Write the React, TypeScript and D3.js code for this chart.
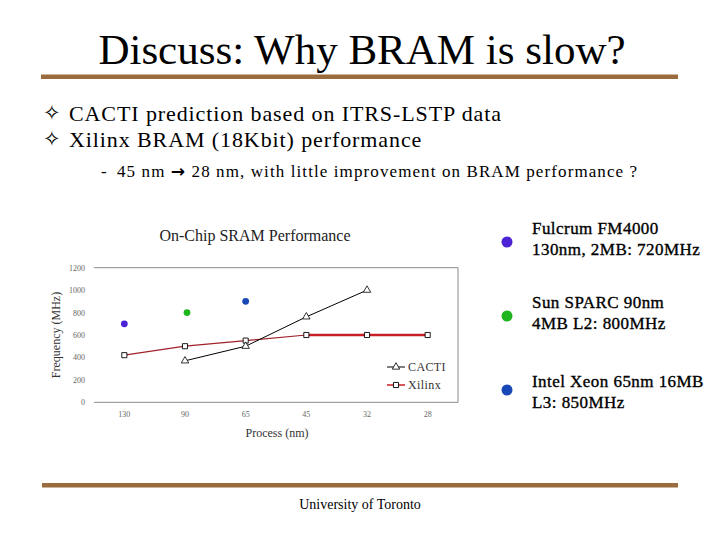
import React, { useEffect, useRef } from 'react';
import * as d3 from 'd3';

// chart data
const processes = ['130', '90', '65', '45', '32', '28'];
const cactiData: [string, number][] = [
  ['90', 370],
  ['65', 500],
  ['45', 762],
  ['32', 1000],
];
const xilinxData: [string, number][] = [
  ['130', 420],
  ['90', 500],
  ['65', 550],
  ['45', 600],
  ['32', 600],
  ['28', 600],
];
const chipPoints: [string, number, string][] = [
  ['130', 700, '#4B22D6'],
  ['90', 800, '#1FB51F'],
  ['65', 900, '#1848B8'],
];
const yTicks = [0, 200, 400, 600, 800, 1000, 1200];

const bullets = ['CACTI prediction based on ITRS-LSTP data', 'Xilinx BRAM (18Kbit) performance'];
const subBullet = ['45 nm ', '\u2192', ' 28 nm, with little improvement on BRAM performance ?'];
const notes: [string, string, string][] = [
  ['Fulcrum FM4000', '130nm, 2MB: 720MHz', '#4B22D6'],
  ['Sun SPARC 90nm', '4MB L2: 800MHz', '#1FB51F'],
  ['Intel Xeon 65nm 16MB', 'L3: 850MHz', '#1848B8'],
];

const SERIF = 'Liberation Serif';
const BROWN = '#996B3D';

const App: React.FC = () => {
  const svgRef = useRef<SVGSVGElement>(null);

  useEffect(() => {
    if (!svgRef.current) return;
    const svg = d3.select(svgRef.current);
    svg.selectAll('*').remove();

    const text = (sel: d3.Selection<any, any, any, any>, size: number) =>
      sel.style('font-family', SERIF).style('font-size', `${size}px`);

    // slide header
    text(svg.append('text'), 43)
      .attr('x', 362).attr('y', 64)
      .attr('text-anchor', 'middle')
      .attr('fill', '#000')
      .text('Discuss: Why BRAM is slow?');

    svg.append('rect')
      .attr('x', 41).attr('y', 74.5).attr('width', 637).attr('height', 4.5)
      .attr('fill', BROWN);

    bullets.forEach((b, i) => {
      const y = 121 + i * 26;
      svg.append('text')
        .attr('x', 43).attr('y', y - 1)
        .style('font-family', 'DejaVu Sans').style('font-size', '21px')
        .attr('fill', '#000')
        .text('\u2727');
      text(svg.append('text'), 22)
        .attr('x', 69).attr('y', y)
        .style('letter-spacing', '0.9px')
        .attr('fill', '#000')
        .text(b);
    });

    text(svg.append('text'), 17)
      .attr('x', 101).attr('y', 177)
      .attr('fill', '#000')
      .text('-');
    const sub = text(svg.append('text'), 17)
      .attr('x', 117).attr('y', 177)
      .style('letter-spacing', '1.1px')
      .attr('fill', '#000');
    sub.append('tspan').text(subBullet[0]);
    sub.append('tspan')
      .style('font-family', 'DejaVu Sans').style('font-weight', 'bold')
      .text(subBullet[1]);
    sub.append('tspan').text(subBullet[2]);

    // chart
    const left = 94, right = 458, top = 267.7, bottom = 402.3;
    const x = d3.scaleBand().domain(processes).range([left, right]);
    const cx = (p: string) => (x(p) as number) + x.bandwidth() / 2;
    const y = d3.scaleLinear().domain([0, 1200]).range([bottom, top]);

    text(svg.append('text'), 16)
      .attr('x', 255).attr('y', 241)
      .attr('text-anchor', 'middle')
      .attr('fill', '#222')
      .text('On-Chip SRAM Performance');

    const g = svg.append('g');

    // plot border
    g.append('path')
      .attr('d', `M${left},${y(1200)}H${right}V${y(0)}H${left}`)
      .attr('fill', 'none')
      .attr('stroke', '#8a8a8a')
      .attr('stroke-width', 1);

    text(g.selectAll('.ytick')
      .data(yTicks)
      .enter()
      .append('text')
      .attr('class', 'ytick'), 8)
      .attr('x', left - 9)
      .attr('y', d => y(d) + 3)
      .attr('text-anchor', 'end')
      .attr('fill', '#666')
      .text(d => d);

    text(g.selectAll('.xtick')
      .data(processes)
      .enter()
      .append('text')
      .attr('class', 'xtick'), 8)
      .attr('x', d => cx(d))
      .attr('y', bottom + 15)
      .attr('text-anchor', 'middle')
      .attr('fill', '#666')
      .text(d => d);

    text(svg.append('text'), 12)
      .attr('transform', `translate(60,${(top + bottom) / 2}) rotate(-90)`)
      .attr('text-anchor', 'middle')
      .attr('fill', '#333')
      .text('Frequency (MHz)');

    text(svg.append('text'), 12)
      .attr('x', 277).attr('y', 437)
      .attr('text-anchor', 'middle')
      .attr('fill', '#333')
      .text('Process (nm)');

    // Xilinx line: thin first part, thick tail
    const line = d3.line<[string, number]>().x(d => cx(d[0])).y(d => y(d[1]));
    g.append('path')
      .datum(xilinxData.slice(0, 4))
      .attr('d', line)
      .attr('fill', 'none')
      .attr('stroke', '#A0222A')
      .attr('stroke-width', 1.2);
    g.append('path')
      .datum(xilinxData.slice(3))
      .attr('d', line)
      .attr('fill', 'none')
      .attr('stroke', '#C81E24')
      .attr('stroke-width', 2.6);

    g.append('path')
      .datum(cactiData)
      .attr('d', line)
      .attr('fill', 'none')
      .attr('stroke', '#000')
      .attr('stroke-width', 1);

    const square = d3.symbol().type(d3.symbolSquare).size(26);
    const triangle = d3.symbol().type(d3.symbolTriangle).size(24);

    g.selectAll('.xil-mark')
      .data(xilinxData)
      .enter()
      .append('path')
      .attr('class', 'xil-mark')
      .attr('transform', d => `translate(${cx(d[0])},${y(d[1])})`)
      .attr('d', square)
      .attr('fill', '#fff')
      .attr('stroke', '#000')
      .attr('stroke-width', 0.9);

    g.selectAll('.cacti-mark')
      .data(cactiData)
      .enter()
      .append('path')
      .attr('class', 'cacti-mark')
      .attr('transform', d => `translate(${cx(d[0])},${y(d[1])})`)
      .attr('d', triangle)
      .attr('fill', '#fff')
      .attr('stroke', '#000')
      .attr('stroke-width', 0.8);

    g.selectAll('.chip-dot')
      .data(chipPoints)
      .enter()
      .append('circle')
      .attr('class', 'chip-dot')
      .attr('cx', d => cx(d[0]) + (d[0] === '90' ? 2 : 0))
      .attr('cy', d => y(d[1]))
      .attr('r', 3.4)
      .attr('fill', d => d[2]);

    // legend
    const legend = svg.append('g').attr('transform', 'translate(387,367)');
    legend.append('line')
      .attr('x1', 0).attr('x2', 18).attr('y1', 0).attr('y2', 0)
      .attr('stroke', '#000').attr('stroke-width', 1);
    legend.append('path')
      .attr('transform', 'translate(9,0)')
      .attr('d', triangle)
      .attr('fill', '#fff').attr('stroke', '#000').attr('stroke-width', 0.8);
    text(legend.append('text'), 12)
      .attr('x', 21).attr('y', 4)
      .style('letter-spacing', '0.4px')
      .attr('fill', '#333')
      .text('CACTI');
    legend.append('line')
      .attr('x1', 0).attr('x2', 18).attr('y1', 18).attr('y2', 18)
      .attr('stroke', '#C81E24').attr('stroke-width', 1.5);
    legend.append('path')
      .attr('transform', 'translate(9,18)')
      .attr('d', square)
      .attr('fill', '#fff').attr('stroke', '#000').attr('stroke-width', 0.9);
    text(legend.append('text'), 12)
      .attr('x', 21).attr('y', 22)
      .style('letter-spacing', '0.4px')
      .attr('fill', '#333')
      .text('Xilinx');

    // notes on the right
    notes.forEach((n, i) => {
      const base = [234, 307.5, 387][i];
      const dotY = [242, 316, 390][i];
      svg.append('circle')
        .attr('cx', 507).attr('cy', dotY).attr('r', 5.5)
        .attr('fill', n[2]);
      [n[0], n[1]].forEach((t, j) => {
        text(svg.append('text'), 17)
          .attr('x', 532).attr('y', base + j * 21)
          .style('letter-spacing', '0.45px')
          .attr('fill', '#000')
          .attr('stroke', '#000')
          .attr('stroke-width', 0.35)
          .text(t);
      });
    });

    // footer
    svg.append('rect')
      .attr('x', 42).attr('y', 483).attr('width', 636).attr('height', 4.5)
      .attr('fill', BROWN);
    text(svg.append('text'), 14)
      .attr('x', 360).attr('y', 508.5)
      .attr('text-anchor', 'middle')
      .attr('fill', '#000')
      .text('University of Toronto');
  }, []);

  return (
    <svg
      ref={svgRef}
      width={720}
      height={540}
      style={{ position: 'absolute', left: 0, top: 0, background: '#fff' }}
    />
  );
};

export default App;
